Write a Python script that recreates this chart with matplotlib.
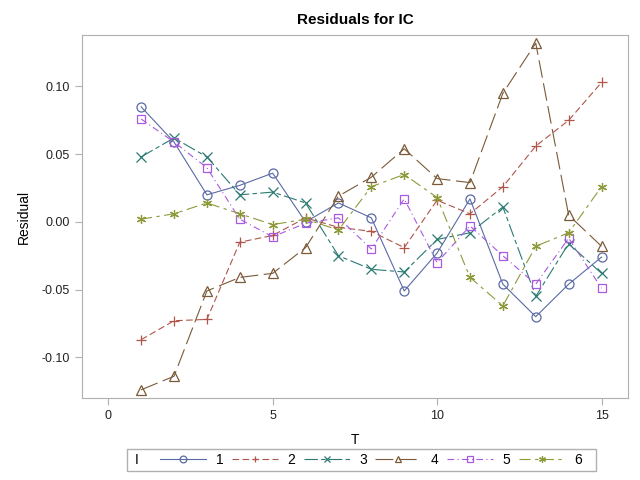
import numpy as np
import matplotlib.pyplot as plt
from matplotlib.patches import Rectangle
from matplotlib.ticker import FormatStrFormatter

plt.rcParams['font.family'] = ['Liberation Sans', 'DejaVu Sans']

t = np.arange(1, 16)

r1 = [0.085, 0.059, 0.020, 0.027, 0.036, 0.000, 0.014, 0.003, -0.051, -0.023, 0.017, -0.046, -0.070, -0.046, -0.026]
r2 = [-0.087, -0.073, -0.072, -0.015, -0.010, 0.003, -0.004, -0.007, -0.019, 0.016, 0.006, 0.026, 0.056, 0.075, 0.103]
r3 = [0.048, 0.062, 0.048, 0.020, 0.022, 0.014, -0.025, -0.035, -0.037, -0.013, -0.008, 0.011, -0.055, -0.016, -0.038]
r4 = [-0.124, -0.114, -0.051, -0.041, -0.038, -0.019, 0.019, 0.033, 0.054, 0.032, 0.029, 0.095, 0.132, 0.005, -0.018]
r5 = [0.076, 0.059, 0.040, 0.002, -0.011, -0.001, 0.003, -0.020, 0.017, -0.030, -0.003, -0.025, -0.046, -0.012, -0.049]
r6 = [0.002, 0.006, 0.014, 0.006, -0.002, 0.002, -0.006, 0.026, 0.035, 0.018, -0.041, -0.062, -0.018, -0.008, 0.026]

labels = ['1', '2', '3', '4', '5', '6']
series = [r1, r2, r3, r4, r5, r6]
colors = ['#5a6aa4', '#b0554a', '#2a7a72', '#7A5A38', '#a95ae0', '#8e9a3a']
markers = ['o', '+', 'x', '^', 's', (6, 2, 0)]
dashes = [None, (6, 3), (12, 3, 4, 3), (16, 5), (6, 3, 1, 3), (10, 4, 3, 4)]

fig = plt.figure(figsize=(6.4, 4.8), dpi=100)
ax = fig.add_axes([0.128, 0.171, 0.853, 0.756])

handles = []
for y, lab, c, m, d in zip(series, labels, colors, markers, dashes):
    kw = dict(color=c, lw=0.8, marker=m, markersize=6.5, markerfacecolor='none',
              markeredgecolor=c, markeredgewidth=0.9, label=lab)
    if m == 's':
        kw['markersize'] = 6
    if d is not None:
        kw['dashes'] = d
    h, = ax.plot(t, y, **kw)
    handles.append(h)

ax.set_xlim(-0.8, 15.8)
ax.set_ylim(-0.130, 0.138)
ax.set_xticks([0, 5, 10, 15])
ax.set_yticks([-0.10, -0.05, 0.0, 0.05, 0.10])
ax.yaxis.set_major_formatter(FormatStrFormatter('%.2f'))
for s in ax.spines.values():
    s.set_color('#b0b0b0')
ax.tick_params(direction='out', length=5, color='#b0b0b0', labelsize=9, labelcolor='#222222')

ax.set_title('Residuals for IC', fontsize=11, fontweight='bold', pad=8)
ax.set_xlabel('T', fontsize=10, labelpad=8)
ax.set_ylabel('Residual', fontsize=10, labelpad=8)

leg = fig.legend(handles=handles, loc='center', bbox_to_anchor=(0.58, 0.0417), ncol=6,
                 frameon=False, fontsize=10, handlelength=3.3, handletextpad=0.7,
                 columnspacing=0.6, markerscale=0.75)
fig.text(0.211, 0.0417, 'I', fontsize=10, ha='left', va='center')
fig.patches.append(Rectangle((0.198, 0.019), 0.733, 0.046, transform=fig.transFigure,
                             fill=False, edgecolor='#b0b0b0', lw=1))

fig.savefig('out.png', dpi=100)
